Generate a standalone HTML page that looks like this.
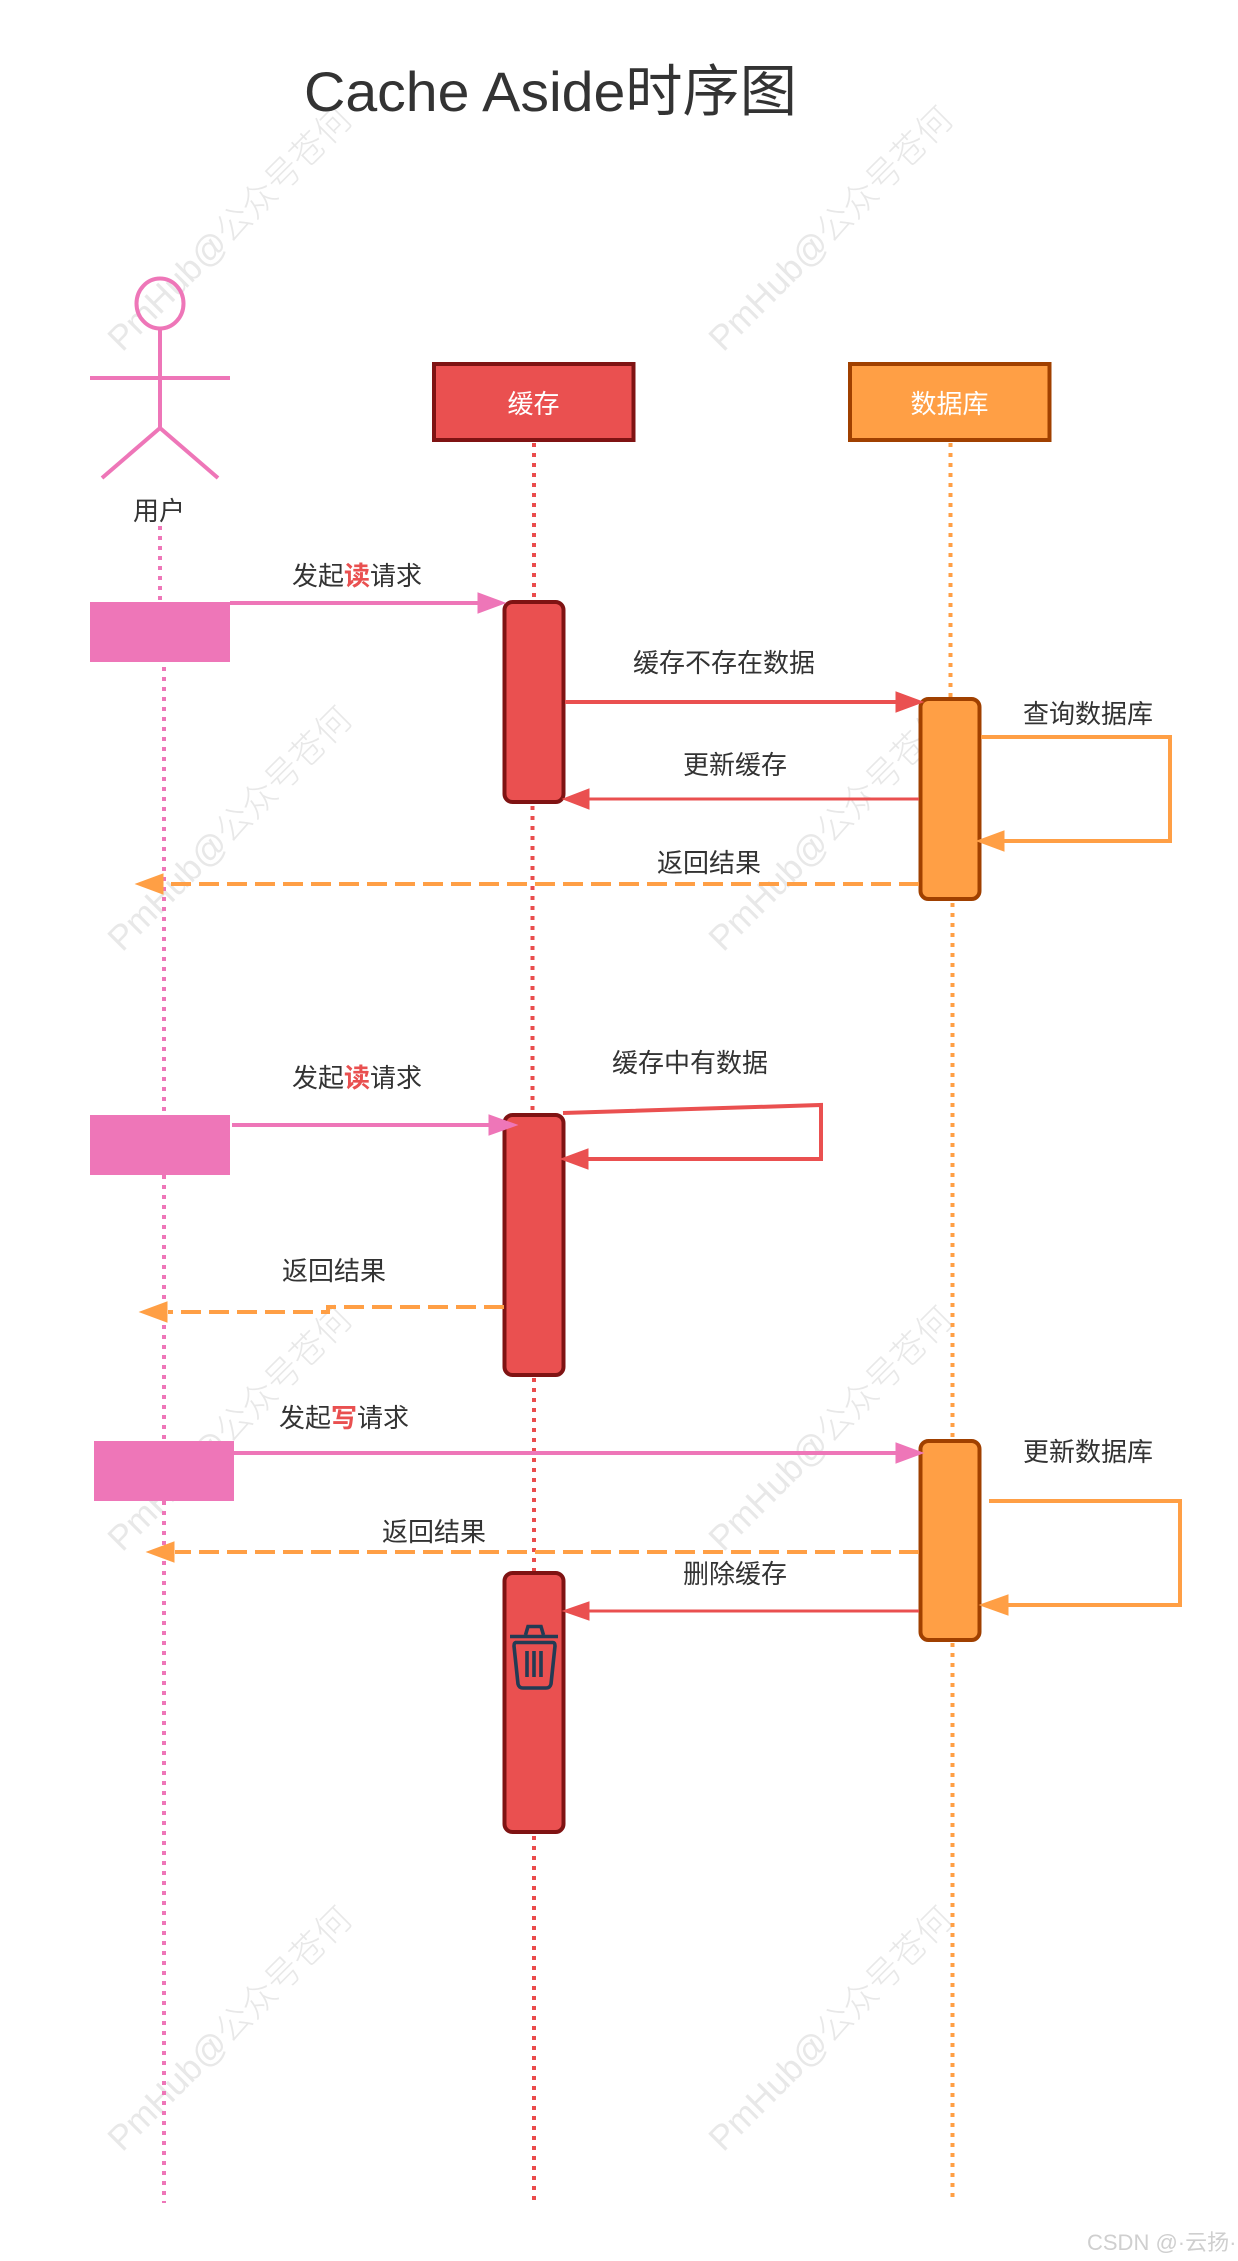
<!DOCTYPE html>
<html><head><meta charset="utf-8">
<style>
html,body{margin:0;padding:0;background:#fff;width:1238px;height:2261px;overflow:hidden}
svg{display:block}
text{font-family:"Liberation Sans","Noto Sans CJK SC",sans-serif}
.l{font-size:26px;fill:#333;text-anchor:middle;font-family:"Noto Sans CJK SC",sans-serif;font-weight:400}
.w{font-size:26px;fill:#fff;text-anchor:middle;font-family:"Noto Sans CJK SC",sans-serif}
.m{font-size:35px;fill:#e8e8e8;text-anchor:middle;font-weight:300}
.r{fill:#e95050;font-weight:700}
.h polygon{stroke-width:1}
</style></head><body>
<svg width="1238" height="2261" viewBox="0 0 1238 2261" xmlns="http://www.w3.org/2000/svg">
<!-- watermarks -->
<g>
<text transform="translate(238,237) rotate(-45)" class="m">PmHub@公众号苍何</text>
<text transform="translate(839,237) rotate(-45)" class="m">PmHub@公众号苍何</text>
<text transform="translate(238,837) rotate(-45)" class="m">PmHub@公众号苍何</text>
<text transform="translate(839,837) rotate(-45)" class="m">PmHub@公众号苍何</text>
<text transform="translate(238,1437) rotate(-45)" class="m">PmHub@公众号苍何</text>
<text transform="translate(839,1437) rotate(-45)" class="m">PmHub@公众号苍何</text>
<text transform="translate(238,2037) rotate(-45)" class="m">PmHub@公众号苍何</text>
<text transform="translate(839,2037) rotate(-45)" class="m">PmHub@公众号苍何</text>
</g>
<!-- title -->
<text x="304" y="111" font-size="56" fill="#333" textLength="493" lengthAdjust="spacingAndGlyphs" style="font-family:'Liberation Sans','Noto Sans CJK SC',sans-serif">Cache Aside时序图</text>
<!-- lifelines -->
<g fill="none" stroke-width="4" stroke-dasharray="4 6">
<path d="M160 526V602" stroke="#ee76b8"/>
<path d="M164 667V1115M164 1175V1441M164 1501V2203" stroke="#ee76b8"/>
<path d="M534 443V600" stroke="#ea4c4c"/>
<path d="M532.5 806V1113" stroke="#ea4c4c"/>
<path d="M534 1378V1571M534 1836V2206" stroke="#ea4c4c"/>
<path d="M950.5 443V697" stroke="#ff9f45"/>
<path d="M952.5 903V1439M952.5 1643V2201" stroke="#ff9f45"/>
</g>
<!-- actor -->
<g fill="none" stroke="#ee76b8" stroke-width="4">
<ellipse cx="160" cy="303.5" rx="23.5" ry="25"/>
<path d="M160 328V428M90 378H230M102 478L160 428L218 478"/>
</g>
<text class="l" x="159" y="520">用户</text>
<!-- headers -->
<rect x="434" y="364" width="199.5" height="76" fill="#ea5050" stroke="#7f1313" stroke-width="4"/>
<text class="w" x="533.5" y="413">缓存</text>
<rect x="850" y="364" width="199.5" height="76" fill="#ff9f45" stroke="#a04000" stroke-width="4"/>
<text class="w" x="949.5" y="413">数据库</text>
<!-- pink boxes -->
<rect x="90" y="602" width="140" height="60" fill="#ee76b8"/>
<rect x="90" y="1115" width="140" height="60" fill="#ee76b8"/>
<rect x="94" y="1441" width="140" height="60" fill="#ee76b8"/>
<!-- activations -->
<g stroke-width="4">
<rect x="504.5" y="602" width="59" height="200" rx="8" fill="#ea5050" stroke="#7f1313"/>
<rect x="504.5" y="1115" width="59" height="260" rx="8" fill="#ea5050" stroke="#7f1313"/>
<rect x="504.5" y="1573" width="59" height="259" rx="8" fill="#ea5050" stroke="#7f1313"/>
<rect x="920.5" y="699" width="59" height="200" rx="8" fill="#ff9f45" stroke="#a04000"/>
<rect x="920.5" y="1441" width="59" height="199" rx="8" fill="#ff9f45" stroke="#a04000"/>
</g>
<!-- arrows -->
<g fill="none" stroke-width="4">
<path d="M230 603H480" stroke="#ee76b8"/>
<path d="M565 702H898" stroke="#ea5050"/>
<path d="M919 799H588" stroke="#ea5050" stroke-width="3"/>
<path d="M981 737H1170V841H1004" stroke="#ff9f45"/>
<path d="M919 884H166" stroke="#ff9f45" stroke-dasharray="20 8"/>
<path d="M232 1125H490" stroke="#ee76b8"/>
<path d="M563 1113L821 1105V1159H588" stroke="#ea5050"/>
<path d="M504 1307H328V1312H168" stroke="#ff9f45" stroke-dasharray="20 8"/>
<path d="M234 1453H898" stroke="#ee76b8"/>
<path d="M989 1501H1180V1605H1008" stroke="#ff9f45"/>
<path d="M919 1552H175" stroke="#ff9f45" stroke-dasharray="20 8"/>
<path d="M919 1611H588" stroke="#ea5050" stroke-width="3"/>
</g>
<!-- heads -->
<g class="h">
<polygon points="505,603 478,593 478,613" fill="#ee76b8" stroke="#ee76b8"/>
<polygon points="923,702 896,692 896,712" fill="#ea5050" stroke="#ea5050"/>
<polygon points="563,799 589,789 589,809" fill="#ea5050" stroke="#ea5050"/>
<polygon points="977,841 1004,831 1004,851" fill="#ff9f45" stroke="#ff9f45"/>
<polygon points="136,884 163,874 163,894" fill="#ff9f45" stroke="#ff9f45"/>
<polygon points="517,1125 489,1115 489,1135" fill="#ee76b8" stroke="#ee76b8"/>
<polygon points="561,1159 588,1149 588,1169" fill="#ea5050" stroke="#ea5050"/>
<polygon points="140,1312 167,1302 167,1322" fill="#ff9f45" stroke="#ff9f45"/>
<polygon points="923,1453 896,1443 896,1463" fill="#ee76b8" stroke="#ee76b8"/>
<polygon points="980,1605 1008,1595 1008,1615" fill="#ff9f45" stroke="#ff9f45"/>
<polygon points="147,1552 174,1542 174,1562" fill="#ff9f45" stroke="#ff9f45"/>
<polygon points="563,1611 589,1602 589,1620" fill="#ea5050" stroke="#ea5050"/>
</g>
<!-- trash -->
<g fill="none" stroke="#233b54" stroke-width="3.6">
<path d="M510 1636.5H558"/>
<path d="M525.5 1635L528 1626.5H541L543.5 1635"/>
<path d="M515 1642.5H553Q555 1642.5 555 1646L551 1684Q550 1688 546 1688H523Q519 1688 518 1684L514 1646Q514 1642.5 516 1642.5Z"/>
<path d="M527 1651V1677M534 1651V1677M541 1651V1677"/>
</g>
<!-- labels -->
<text class="l" x="357" y="585">发起<tspan class="r">读</tspan>请求</text>
<text class="l" x="724" y="672">缓存不存在数据</text>
<text class="l" x="735" y="774">更新缓存</text>
<text class="l" x="1088" y="723">查询数据库</text>
<text class="l" x="709" y="872">返回结果</text>
<text class="l" x="357" y="1087">发起<tspan class="r">读</tspan>请求</text>
<text class="l" x="690" y="1072">缓存中有数据</text>
<text class="l" x="334" y="1280">返回结果</text>
<text class="l" x="344" y="1427">发起<tspan class="r">写</tspan>请求</text>
<text class="l" x="1088" y="1461">更新数据库</text>
<text class="l" x="434" y="1541">返回结果</text>
<text class="l" x="735" y="1583">删除缓存</text>
<!-- csdn -->
<text x="1087" y="2250" font-size="22" fill="#cfcfcf">CSDN @·云扬·</text>
</svg>
</body></html>
